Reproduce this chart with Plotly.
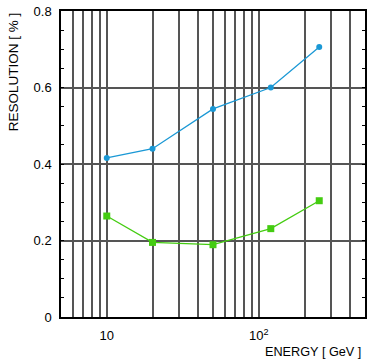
import plotly.graph_objects as go

energy = [10, 20, 50, 120, 250]
res_blue = [0.416, 0.440, 0.544, 0.600, 0.706]
res_green = [0.264, 0.195, 0.189, 0.231, 0.304]

x_major_vals = [10, 100]
x_major_text = ["10", "10<sup>2</sup>"]
x_minor_vals = [6, 7, 8, 9, 20, 30, 40, 50, 60, 70, 80, 90, 200, 300, 400]

y_vals = [0, 0.2, 0.4, 0.6, 0.8]
y_text = ["0", "0.2", "0.4", "0.6", "0.8"]

blue = "#1a98d5"
green = "#44cc11"
font = "Liberation Sans, Arial, Helvetica, sans-serif"
gridc = "#555555"

fig = go.Figure()
fig.add_trace(go.Scatter(x=energy, y=res_blue, mode="lines+markers",
                         line=dict(color=blue, width=1.3),
                         marker=dict(symbol="circle", size=6, color=blue),
                         showlegend=False))
fig.add_trace(go.Scatter(x=energy, y=res_green, mode="lines+markers",
                         line=dict(color=green, width=1.3),
                         marker=dict(symbol="square", size=7, color=green),
                         showlegend=False))

fig.update_layout(
    width=370, height=360,
    margin=dict(l=61, r=3, t=11, b=43),
    paper_bgcolor="white", plot_bgcolor="white",
    font=dict(family=font, size=13, color="black"),
    xaxis=dict(type="log", range=[0.69897, 2.69897],
               tickmode="array", tickvals=x_major_vals, ticktext=x_major_text,
               showgrid=True, gridcolor=gridc, gridwidth=1.5,
               minor=dict(tickmode="array", tickvals=x_minor_vals, showgrid=True,
                          gridcolor=gridc, gridwidth=1.5, ticks=""),
               ticks="", ticklabelstandoff=6,
               showline=True, linecolor="black", linewidth=1.5,
               mirror=True, zeroline=False, tickfont=dict(size=13)),
    yaxis=dict(range=[0, 0.8], tickmode="array", tickvals=y_vals, ticktext=y_text,
               showgrid=True, gridcolor=gridc, gridwidth=1.5,
               ticks="inside", ticklen=3, tickcolor="black", ticklabelstandoff=5,
               minor=dict(dtick=0.05, tick0=0, ticks="inside", ticklen=3,
                          tickcolor="black", showgrid=False),
               showline=True, linecolor="black", linewidth=1.5,
               mirror="allticks", zeroline=False, tickfont=dict(size=13)),
    annotations=[
        dict(text="RESOLUTION [ % ]", xref="paper", yref="paper",
             x=-0.1536, y=0.8007, xanchor="center", yanchor="middle", textangle=-90,
             showarrow=False, font=dict(size=13.5)),
        dict(text="ENERGY [ GeV ]", xref="paper", yref="paper",
             x=1.0, y=-0.1144, xanchor="right", yanchor="middle", xshift=-2,
             showarrow=False, font=dict(size=12.7)),
    ],
)

fig.write_html("out.html", config={"displayModeBar": False},
               post_script="document.body.style.margin='0';")
